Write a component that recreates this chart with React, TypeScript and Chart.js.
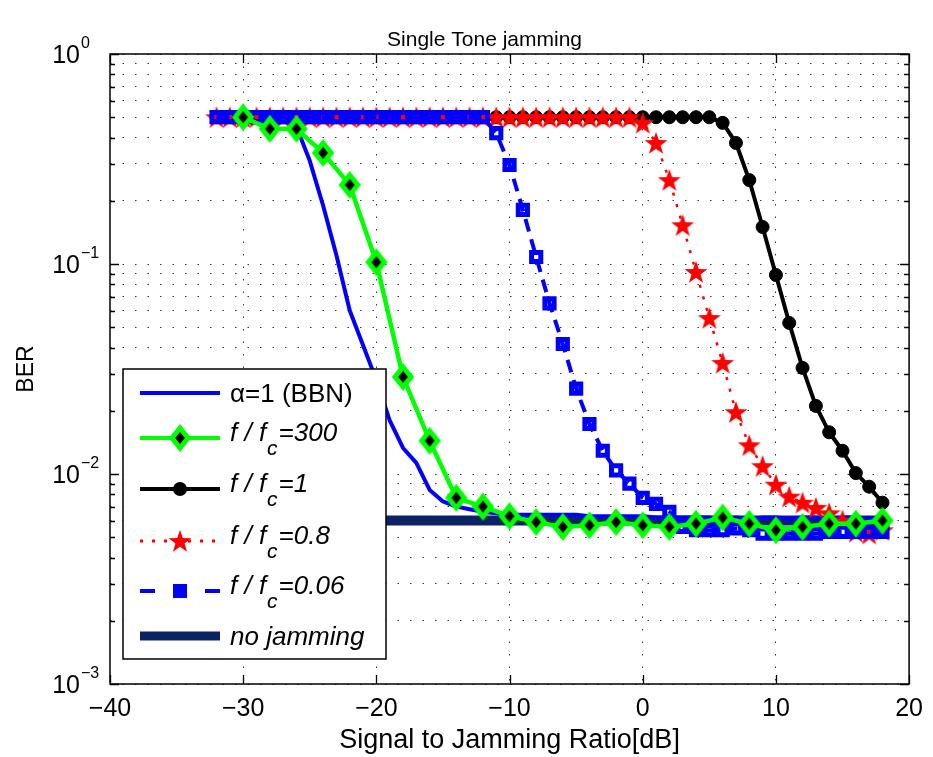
import React, { useEffect, useRef } from 'react';
import { Chart, registerables } from 'chart.js';

Chart.register(...registerables);

const FONT = "'Liberation Sans', Arial, Helvetica, sans-serif";

// ---------- data ----------
const snrDb = [-32, -31, -30, -29, -28, -27, -26, -25, -24, -23, -22, -21, -20, -19, -18, -17, -16, -15, -14, -13, -12, -11, -10, -9, -8, -7, -6, -5, -4, -3, -2, -1, 0, 1, 2, 3, 4, 5, 6, 7, 8, 9, 10, 11, 12, 13, 14, 15, 16, 17, 18];
const snrDbStep2 = [-30, -28, -26, -24, -22, -20, -18, -16, -14, -12, -10, -8, -6, -4, -2, 0, 2, 4, 6, 8, 10, 12, 14, 16, 18];

const berBBN = [0.5, 0.5, 0.5, 0.5, 0.5, 0.49, 0.45, 0.31, 0.19, 0.11, 0.06, 0.041, 0.028, 0.018, 0.0133, 0.0113, 0.0084, 0.0074, 0.007, 0.0068, 0.0066, 0.0065, 0.0064, 0.0064, 0.0064, 0.0064, 0.0064, 0.0064, 0.0063, 0.0063, 0.0063, 0.0063, 0.0063, 0.0062, 0.0062, 0.0062, 0.0062, 0.0062, 0.0061, 0.0062, 0.0061, 0.0062, 0.0062, 0.0061, 0.0062, 0.0062, 0.0061, 0.0062, 0.0062, 0.0061, 0.0062];
const berRatio300 = [0.5, 0.44, 0.44, 0.338, 0.238, 0.102, 0.029, 0.0144, 0.0077, 0.007, 0.0063, 0.0059, 0.0056, 0.0057, 0.0059, 0.0057, 0.0056, 0.0058, 0.0062, 0.0058, 0.0054, 0.0056, 0.0058, 0.0058, 0.006];
const berRatio1 = [0.5, 0.5, 0.5, 0.5, 0.5, 0.5, 0.5, 0.5, 0.5, 0.5, 0.5, 0.5, 0.5, 0.5, 0.5, 0.5, 0.5, 0.5, 0.5, 0.5, 0.5, 0.5, 0.5, 0.5, 0.5, 0.5, 0.5, 0.5, 0.5, 0.5, 0.5, 0.5, 0.5, 0.5, 0.5, 0.5, 0.5, 0.5, 0.47, 0.377, 0.251, 0.15, 0.0886, 0.0524, 0.032, 0.0211, 0.0158, 0.0129, 0.0101, 0.0087, 0.0073];
const berRatio08 = [0.5, 0.5, 0.5, 0.5, 0.5, 0.5, 0.5, 0.5, 0.5, 0.5, 0.5, 0.5, 0.5, 0.5, 0.5, 0.5, 0.5, 0.5, 0.5, 0.5, 0.5, 0.5, 0.5, 0.5, 0.5, 0.5, 0.5, 0.5, 0.5, 0.5, 0.5, 0.5, 0.47, 0.377, 0.251, 0.153, 0.0916, 0.0553, 0.0338, 0.0197, 0.0137, 0.0109, 0.0089, 0.0078, 0.0073, 0.0069, 0.0065, 0.006, 0.0053, 0.0052, 0.0054];
const berRatio006 = [0.5, 0.5, 0.5, 0.5, 0.5, 0.5, 0.5, 0.5, 0.5, 0.5, 0.5, 0.5, 0.5, 0.5, 0.5, 0.5, 0.5, 0.5, 0.5, 0.5, 0.5, 0.42, 0.296, 0.181, 0.108, 0.065, 0.0416, 0.0255, 0.0173, 0.0129, 0.0104, 0.009, 0.0077, 0.0072, 0.0066, 0.0056, 0.0054, 0.0054, 0.0054, 0.0055, 0.0054, 0.0052, 0.0052, 0.0052, 0.0052, 0.0052, 0.0053, 0.0053, 0.0053, 0.0053, 0.0053];
const berNoJamming = [0.006, 0.006, 0.006, 0.006, 0.006, 0.006, 0.006, 0.006, 0.006, 0.006, 0.006, 0.006, 0.006, 0.006, 0.006, 0.006, 0.006, 0.006, 0.006, 0.006, 0.006, 0.006, 0.006, 0.006, 0.006, 0.006, 0.006, 0.006, 0.006, 0.006, 0.006, 0.006, 0.006, 0.006, 0.006, 0.006, 0.006, 0.006, 0.006, 0.006, 0.006, 0.006, 0.006, 0.006, 0.006, 0.006, 0.006, 0.006, 0.006, 0.006, 0.006];

const xTickValues = [-40, -30, -20, -10, 0, 10, 20];
const yMajorTicks = [0.001, 0.01, 0.1, 1];
const yTickBase = ['10', '10', '10', '10'];
const yTickExponent = ['\u22123', '\u22122', '\u22121', '0'];
const yGridValues = [0.001, 0.002, 0.003, 0.004, 0.005, 0.006, 0.007, 0.008, 0.009, 0.01, 0.02, 0.03, 0.04, 0.05, 0.06, 0.07, 0.08, 0.09, 0.1, 0.2, 0.3, 0.4, 0.5, 0.6, 0.7, 0.8, 0.9, 1];

const titleText = 'Single Tone jamming';
const xTitleText = 'Signal to Jamming Ratio[dB]';
const yTitleText = 'BER';

const legendMain = ['\u03b1=1 (BBN)', 'f / f', 'f / f', 'f / f', 'f / f', 'no jamming'];
const legendSub = ['', 'c', 'c', 'c', 'c', ''];
const legendPost = ['', '=300', '=1', '=0.8', '=0.06', ''];
const legendItalic = [false, true, true, true, true, true];

const BLUE = '#0000ff';
const GREEN = '#00ff00';
const RED = '#ff0000';
const NAVY = '#0a2463';

function makeStarCanvas(): HTMLCanvasElement {
  const c = document.createElement('canvas');
  c.width = 26;
  c.height = 26;
  const g = c.getContext('2d') as CanvasRenderingContext2D;
  g.fillStyle = RED;
  g.beginPath();
  for (let i = 0; i < 10; i++) {
    const r = i % 2 === 0 ? 12 : 4.8;
    const ang = -Math.PI / 2 + (i * Math.PI) / 5;
    const px = 13 + r * Math.cos(ang);
    const py = 14 + r * Math.sin(ang);
    if (i === 0) g.moveTo(px, py);
    else g.lineTo(px, py);
  }
  g.closePath();
  g.fill();
  return c;
}

function makeDiamondCanvas(): HTMLCanvasElement {
  const c = document.createElement('canvas');
  c.width = 28;
  c.height = 32;
  const g = c.getContext('2d') as CanvasRenderingContext2D;
  g.beginPath();
  g.moveTo(14, 6);
  g.lineTo(22, 16);
  g.lineTo(14, 26);
  g.lineTo(6, 16);
  g.closePath();
  g.fillStyle = '#000';
  g.fill();
  g.lineWidth = 5;
  g.lineJoin = 'miter';
  g.strokeStyle = GREEN;
  g.stroke();
  return c;
}

export default function App() {
  const ref = useRef<HTMLCanvasElement | null>(null);

  useEffect(() => {
    document.body.style.margin = '0';
    document.body.style.overflow = 'hidden';
    const canvas = ref.current;
    if (!canvas) return;

    const star = makeStarCanvas();
    const diamond = makeDiamondCanvas();
    const toPts = (xs: number[], ys: number[]) => xs.map((x, i) => ({ x, y: ys[i] }));

    const overlay = {
      id: 'matlabOverlay',
      afterDraw(chart: any) {
        const { ctx, chartArea: a, scales } = chart;
        const xs = scales.x;
        const ys = scales.y;
        ctx.save();
        ctx.setLineDash([]);

        // ----- title (MATLAB places it slightly left of the axes centre) -----
        ctx.fillStyle = '#000';
        ctx.font = `21px ${FONT}`;
        ctx.textAlign = 'center';
        ctx.textBaseline = 'alphabetic';
        ctx.fillText(titleText, (a.left + a.right) / 2 - 25, a.top - 8);

        // ----- legend -----
        const L = a.left + 13;
        const T = a.top + 315;
        const W = 263;
        const H = 290;
        ctx.fillStyle = '#fff';
        ctx.fillRect(L, T, W, H);
        ctx.strokeStyle = '#000';
        ctx.lineWidth = 1.5;
        ctx.strokeRect(L, T, W, H);
        const rows = [24, 69, 120, 172, 222, 267].map((d) => T + d);
        const x0 = L + 17;
        const x1 = L + 97;
        const xm = L + 57;
        const xt = L + 107;
        const seg = (xa: number, xb: number, y: number, color: string, w: number, dash: number[]) => {
          ctx.beginPath();
          ctx.setLineDash(dash);
          ctx.strokeStyle = color;
          ctx.lineWidth = w;
          ctx.moveTo(xa, y);
          ctx.lineTo(xb, y);
          ctx.stroke();
          ctx.setLineDash([]);
        };
        seg(x0, x1, rows[0], BLUE, 4, []);
        seg(x0, x1, rows[1], GREEN, 4, []);
        ctx.drawImage(diamond, xm - diamond.width / 2, rows[1] - diamond.height / 2);
        seg(x0, x1, rows[2], '#000', 4, []);
        ctx.beginPath();
        ctx.fillStyle = '#000';
        ctx.arc(xm, rows[2], 7, 0, Math.PI * 2);
        ctx.fill();
        seg(x0, x1, rows[3], RED, 3, [3, 9]);
        ctx.drawImage(star, xm - star.width / 2, rows[3] - star.height / 2);
        seg(x0, x0 + 15, rows[4], BLUE, 4, []);
        seg(x1 - 15, x1, rows[4], BLUE, 4, []);
        ctx.fillStyle = BLUE;
        ctx.fillRect(xm - 7, rows[4] - 7, 14, 14);
        seg(x0, x1, rows[5], NAVY, 9, []);

        ctx.fillStyle = '#000';
        ctx.textAlign = 'left';
        ctx.textBaseline = 'alphabetic';
        for (let i = 0; i < legendMain.length; i++) {
          const y = rows[i];
          const it = legendItalic[i] ? 'italic ' : '';
          if (!legendSub[i]) {
            ctx.font = `${it}26px ${FONT}`;
            ctx.fillText(legendMain[i], xt, y + 9);
          } else {
            ctx.font = `${it}26px ${FONT}`;
            ctx.fillText(legendMain[i], xt, y + 3);
            let w = ctx.measureText(legendMain[i]).width + 1;
            ctx.font = `${it}21px ${FONT}`;
            ctx.fillText(legendSub[i], xt + w, y + 17);
            w += ctx.measureText(legendSub[i]).width + 1;
            ctx.font = `${it}26px ${FONT}`;
            ctx.fillText(legendPost[i], xt + w, y + 3);
          }
        }

        // ----- frame -----
        ctx.strokeStyle = '#000';
        ctx.lineWidth = 1.5;
        ctx.strokeRect(a.left, a.top, a.right - a.left, a.bottom - a.top);

        // ----- inward ticks -----
        ctx.lineWidth = 1.3;
        ctx.beginPath();
        for (const v of xTickValues) {
          const px = Math.round(xs.getPixelForValue(v)) + 0.5;
          ctx.moveTo(px, a.bottom);
          ctx.lineTo(px, a.bottom - 9);
          ctx.moveTo(px, a.top);
          ctx.lineTo(px, a.top + 9);
        }
        for (const v of yGridValues) {
          const py = Math.round(ys.getPixelForValue(v)) + 0.5;
          const len = yMajorTicks.includes(v) ? 9 : 5;
          ctx.moveTo(a.left, py);
          ctx.lineTo(a.left + len, py);
          ctx.moveTo(a.right, py);
          ctx.lineTo(a.right - len, py);
        }
        ctx.stroke();

        // ----- y tick labels (10 with superscript exponent) -----
        ctx.fillStyle = '#000';
        for (let i = 0; i < yMajorTicks.length; i++) {
          const py = ys.getPixelForValue(yMajorTicks[i]);
          ctx.font = `25px ${FONT}`;
          ctx.textAlign = 'right';
          ctx.fillText(yTickBase[i], a.left - 30, py + 9);
          ctx.font = `16px ${FONT}`;
          ctx.textAlign = 'left';
          ctx.fillText(yTickExponent[i], a.left - 29, py - 6);
        }
        ctx.restore();
      },
    };

    const gridColor = '#3a3a3a';

    const chart = new Chart(canvas, {
      type: 'line',
      data: {
        datasets: [
          {
            label: 'no jamming',
            data: toPts(snrDb, berNoJamming),
            borderColor: NAVY,
            borderWidth: 10,
            pointRadius: 0,
            order: 5,
          },
          {
            label: '\u03b1=1 (BBN)',
            data: toPts(snrDb, berBBN),
            borderColor: BLUE,
            borderWidth: 4,
            pointRadius: 0,
            borderJoinStyle: 'round',
            order: 4,
          },
          {
            label: 'f / fc=1',
            data: toPts(snrDb, berRatio1),
            borderColor: '#000',
            borderWidth: 4,
            pointStyle: 'circle',
            pointRadius: 6.5,
            pointBorderWidth: 1,
            pointBackgroundColor: '#000',
            pointBorderColor: '#000',
            borderJoinStyle: 'round',
            order: 3,
          },
          {
            label: 'f / fc=0.8',
            data: toPts(snrDb, berRatio08),
            borderColor: RED,
            borderWidth: 2.5,
            borderDash: [3, 9],
            pointStyle: star,
            pointRadius: 11,
            order: 2,
          },
          {
            label: 'f / fc=0.06',
            data: toPts(snrDb, berRatio006),
            borderColor: BLUE,
            borderWidth: 4,
            borderDash: [13, 8],
            pointStyle: 'rect',
            pointRadius: 6.5,
            pointBorderWidth: 5,
            pointBorderColor: BLUE,
            pointBackgroundColor: 'rgba(0,0,0,0)',
            order: 1,
          },
          {
            label: 'f / fc=300',
            data: toPts(snrDbStep2, berRatio300),
            borderColor: GREEN,
            borderWidth: 4.5,
            pointStyle: diamond,
            pointRadius: 11,
            borderJoinStyle: 'round',
            order: 0,
          },
        ] as any,
      },
      options: {
        responsive: false,
        maintainAspectRatio: false,
        animation: false,
        devicePixelRatio: 1,
        events: [],
        layout: { padding: { left: 0, right: 18, top: 54, bottom: 0 } },
        elements: { line: { tension: 0 } },
        plugins: {
          legend: { display: false },
          tooltip: { enabled: false },
          title: { display: false },
        },
        scales: {
          x: {
            type: 'linear',
            min: -40,
            max: 20,
            afterBuildTicks: (s: any) => {
              s.ticks = xTickValues.map((v) => ({ value: v }));
            },
            afterFit: (s: any) => {
              s.height = 73;
            },
            ticks: {
              color: '#000',
              font: { family: FONT, size: 25 },
              padding: 10,
              maxRotation: 0,
              autoSkip: false,
              callback: (v: any) => (Number(v) < 0 ? '\u2212' + Math.abs(Number(v)) : String(v)),
            },
            grid: {
              color: (c: any) =>
                c.tick && (c.tick.value === -40 || c.tick.value === 20) ? 'rgba(0,0,0,0)' : gridColor,
              lineWidth: 1,
              drawTicks: false,
            },
            border: { display: false, dash: [1.5, 11] },
            title: {
              display: true,
              text: xTitleText,
              color: '#000',
              font: { family: FONT, size: 27 },
              padding: { top: 0, bottom: 0 },
            },
          },
          y: {
            type: 'logarithmic',
            min: 0.001,
            max: 1,
            afterBuildTicks: (s: any) => {
              s.ticks = yGridValues.map((v) => ({ value: v }));
            },
            afterFit: (s: any) => {
              s.width = 110;
            },
            ticks: { display: false },
            grid: { color: gridColor, lineWidth: 1, drawTicks: false },
            border: { display: false, dash: [1.5, 11] },
            title: {
              display: true,
              text: yTitleText,
              color: '#000',
              font: { family: FONT, size: 23 },
              padding: { top: 13, bottom: 0 },
            },
          },
        },
      } as any,
      plugins: [overlay],
    });

    return () => chart.destroy();
  }, []);

  return (
    <div style={{ width: 933, height: 757, overflow: 'hidden', background: '#fff' }}>
      <canvas ref={ref} width={933} height={757} style={{ display: 'block', width: 933, height: 757 }} />
    </div>
  );
}
